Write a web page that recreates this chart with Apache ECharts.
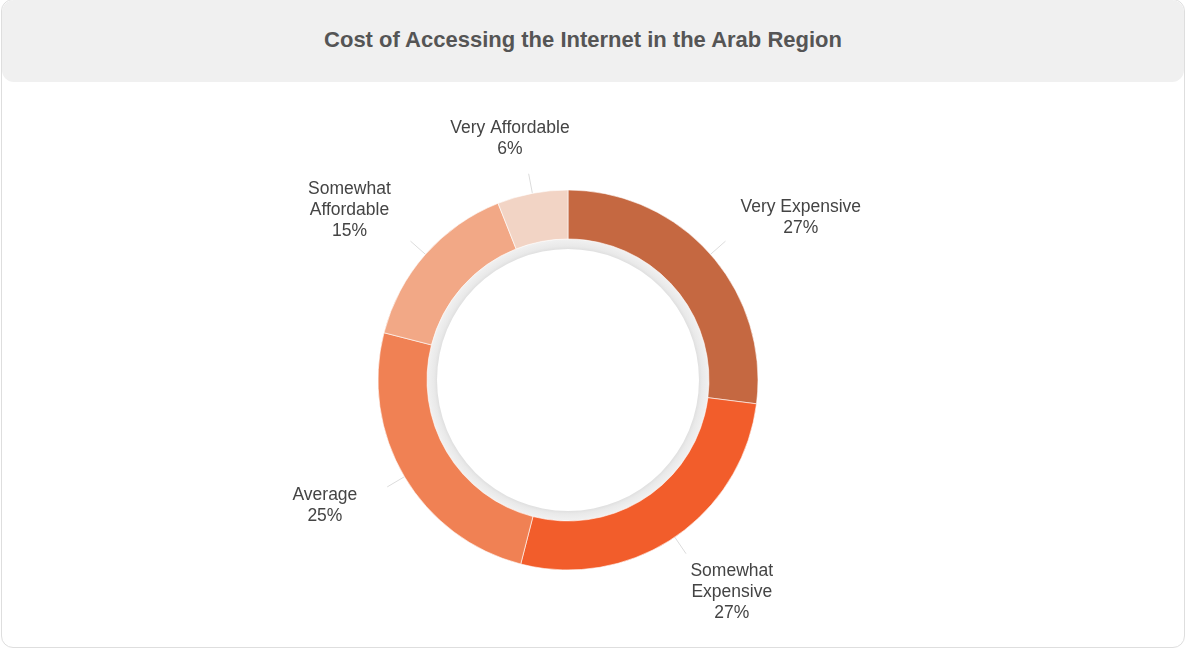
<!DOCTYPE html>
<html>
<head>
<meta charset="utf-8">
<script src="https://cdn.jsdelivr.net/npm/echarts@6/dist/echarts.min.js"></script>
<style>
  html, body { margin: 0; padding: 0; background: #fff; }
  .card {
    position: absolute; left: 1px; top: -1px; width: 1182px; height: 647px;
    border: 1px solid #dedede; border-radius: 12px; overflow: hidden; background: #fff;
  }
  .card .head {
    height: 82px; background: #f0f0f0; border-radius: 12px;
    font: bold 22px "Liberation Sans", Arial, sans-serif; color: #555;
    display: flex; align-items: center; justify-content: center;
    padding: 0 20px 3px 0; box-sizing: border-box;
  }
  #chart { position: absolute; left: 0; top: 0; width: 1186px; height: 649px; }
</style>
</head>
<body>
<div class="card"><div class="head">Cost of Accessing the Internet in the Arab Region</div></div>
<div id="chart"></div>
<script>
// data
const categories = ['Very Expensive', 'Somewhat Expensive', 'Average', 'Somewhat Affordable', 'Very Affordable']
const shares = [27, 27, 25, 15, 6]
const colors = ['#c56841', '#f25d2b', '#f08154', '#f2a886', '#f2d4c5']

const CX = 568
const CY = 380
const R_OUT = 190
const R_IN = 141
// how far out the label boxes sit (horizontal / vertical)
const LABEL_DX = 250
const LABEL_DY = 225

const chart = echarts.init(document.getElementById('chart'))

// put the label box beyond the end of its leader line, lines centred
const placeLabel = (params) => {
  const pts = params.labelLinePoints
  if (!pts) return {}
  const end = pts[pts.length - 1]
  const dx = end[0] - CX
  const dy = end[1] - CY
  const len = Math.sqrt(dx * dx + dy * dy) || 1
  const ux = dx / len
  const uy = dy / len
  const hw = params.labelRect.width / 2
  const hh = params.labelRect.height / 2
  return {
    x: CX + ux * (LABEL_DX + hw),
    y: CY + uy * LABEL_DY + uy * hh,
    align: 'center',
    verticalAlign: 'middle',
    labelLinePoints: pts,
  }
}

const option = {
  animation: false,
  series: [
    {
      type: 'pie',
      silent: true,
      center: [CX, CY],
      radius: [R_IN - 10, R_IN],
      label: { show: false },
      labelLine: { show: false },
      itemStyle: {
        color: {
          type: 'radial', x: 0.5, y: 0.5, r: 0.5,
          colorStops: [
            { offset: 0.92, color: '#dcdcdc' },
            { offset: 0.95, color: '#e9e9e9' },
            { offset: 1, color: '#f1f1f1' },
          ],
        },
      },
      data: [1],
    },
    {
      type: 'pie',
      center: [CX, CY],
      radius: [R_IN, R_OUT],
      startAngle: 90,
      clockwise: true,
      itemStyle: { borderColor: '#fff', borderWidth: 0.6 },
      label: {
        show: true,
        fontFamily: '"Liberation Sans", Arial, sans-serif',
        fontSize: 17.5,
        lineHeight: 21,
        color: '#444',
        formatter: (p) => p.name.replace('Somewhat ', 'Somewhat\n') + '\n' + p.value + '%',
      },
      labelLine: {
        show: true,
        length: 20,
        length2: 0,
        lineStyle: { color: '#dcdcdc', width: 1 },
      },
      labelLayout: placeLabel,
      data: categories.map((name, i) => ({
        name,
        value: shares[i],
        itemStyle: { color: colors[i] },
      })),
    },
  ],
}

chart.setOption(option)
</script>
</body>
</html>
